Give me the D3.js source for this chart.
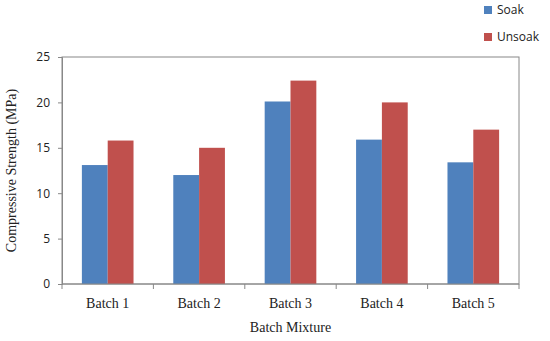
<!DOCTYPE html>
<html lang="en">
<head>
<meta charset="UTF-8">
<title>Compressive Strength by Batch</title>
<script src="https://d3js.org/d3.v7.min.js"></script>
<style>
    body { margin: 0; background: #fff; }
    .num-text { font-family: "Open Sans", sans-serif; font-size: 12px; fill: #222; }
    .serif-text { font-family: "Liberation Serif", "DejaVu Serif", serif; font-size: 14px; fill: #222; }
</style>
</head>
<body>
<script>
    var categories = ["Batch 1", "Batch 2", "Batch 3", "Batch 4", "Batch 5"];
    var seriesNames = ["Soak", "Unsoak"];
    var soak = [13.1, 12.0, 20.1, 15.9, 13.4];
    var unsoak = [15.8, 15.0, 22.4, 20.0, 17.0];
    var yTicks = [0, 5, 10, 15, 20, 25];

    var w = 550, h = 341;
    var plotLeft = 62, plotRight = 519, plotTop = 57, plotBottom = 284;
    var colors = ["#4f81bd", "#c0504d"];

    var svg = d3.select("body").append("svg")
        .attr("width", w)
        .attr("height", h);

    var xScale = d3.scaleBand()
        .domain(categories)
        .range([plotLeft, plotRight]);

    var xInner = d3.scaleBand()
        .domain(seriesNames)
        .range([0, xScale.bandwidth()])
        .paddingOuter(0.77)
        .paddingInner(0);

    var yScale = d3.scaleLinear()
        .domain([0, 25])
        .range([plotBottom, plotTop]);

    // plot frame
    svg.append("rect")
        .attr("x", plotLeft)
        .attr("y", plotTop)
        .attr("width", plotRight - plotLeft)
        .attr("height", plotBottom - plotTop)
        .attr("fill", "none")
        .attr("stroke", "#888")
        .attr("stroke-width", 1);

    // bars
    var rows = categories.map(function (c, i) {
        return { cat: c, values: [soak[i], unsoak[i]] };
    });

    var groups = svg.selectAll(".grp")
        .data(rows)
        .enter()
        .append("g")
        .attr("class", "grp")
        .attr("transform", function (d) { return "translate(" + xScale(d.cat) + ",0)"; });

    groups.selectAll("rect")
        .data(function (d) { return d.values; })
        .enter()
        .append("rect")
        .attr("x", function (d, i) { return xInner(seriesNames[i]); })
        .attr("y", function (d) { return yScale(d); })
        .attr("width", xInner.bandwidth())
        .attr("height", function (d) { return plotBottom - yScale(d); })
        .attr("fill", function (d, i) { return colors[i]; });

    // y axis
    var yAxis = d3.axisLeft(yScale).tickValues(yTicks).tickSize(4).tickPadding(8);
    var yg = svg.append("g")
        .attr("transform", "translate(" + plotLeft + ",0)")
        .call(yAxis);
    yg.selectAll("path, line").attr("stroke", "#888");
    yg.attr("font-family", null).attr("font-size", null);
    yg.selectAll("text").attr("class", "num-text");

    // x axis, ticks at category boundaries
    var xg = svg.append("g")
        .attr("transform", "translate(0," + plotBottom + ")");
    xg.append("line")
        .attr("x1", plotLeft).attr("x2", plotRight)
        .attr("stroke", "#888");
    xg.selectAll(".xtick")
        .data(categories.concat(["end"]))
        .enter()
        .append("line")
        .attr("x1", function (d, i) { return i < categories.length ? xScale(d) : plotRight; })
        .attr("x2", function (d, i) { return i < categories.length ? xScale(d) : plotRight; })
        .attr("y1", 0).attr("y2", 5)
        .attr("stroke", "#888");
    xg.selectAll(".xlabel")
        .data(categories)
        .enter()
        .append("text")
        .attr("class", "serif-text")
        .attr("x", function (d) { return xScale(d) + xScale.bandwidth() / 2; })
        .attr("y", 24)
        .attr("text-anchor", "middle")
        .text(function (d) { return d; });

    // axis titles
    svg.append("text")
        .attr("class", "serif-text")
        .attr("x", (plotLeft + plotRight) / 2)
        .attr("y", 332)
        .attr("text-anchor", "middle")
        .text("Batch Mixture");

    svg.append("text")
        .attr("class", "serif-text")
        .attr("transform", "translate(16," + ((plotTop + plotBottom) / 2) + ") rotate(-90)")
        .attr("text-anchor", "middle")
        .text("Compressive Strength (MPa)");

    // legend
    var legend = svg.selectAll(".legend")
        .data(seriesNames)
        .enter()
        .append("g")
        .attr("transform", function (d, i) { return "translate(484," + (10 + i * 27) + ")"; });
    legend.append("rect")
        .attr("x", 0).attr("y", -4)
        .attr("width", 8).attr("height", 8)
        .attr("fill", function (d, i) { return colors[i]; });
    legend.append("text")
        .attr("class", "num-text")
        .attr("x", 13)
        .attr("y", 4)
        .text(function (d) { return d; });
</script>
</body>
</html>
